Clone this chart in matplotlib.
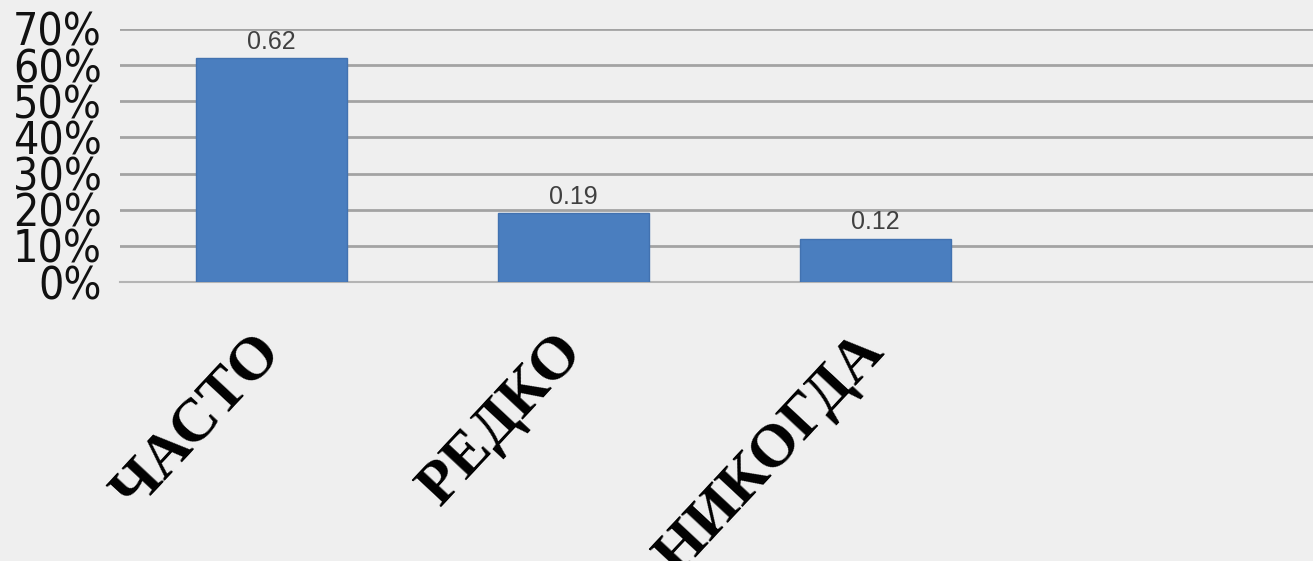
import matplotlib
matplotlib.use('Agg')
import matplotlib.pyplot as plt
import numpy as np

categories = ['ЧАСТО', 'РЕДКО', 'НИКОГДА']
values = [0.62, 0.19, 0.12]
yticks = [0, 0.1, 0.2, 0.3, 0.4, 0.5, 0.6, 0.7]
ytick_labels = ['0%', '10%', '20%', '30%', '40%', '50%', '60%', '70%']

fig = plt.figure(figsize=(13.13, 5.61), dpi=100)
fig.patch.set_facecolor('#efefef')
ax = fig.add_axes([120/1313, 1-282/561, 1-120/1313, (282-29)/561])
ax.set_facecolor('none')

x = np.arange(len(categories))
bars = ax.bar(x, values, width=0.5, color='#4a7ebf', edgecolor='#4272b0', linewidth=1, zorder=3)
for b, v in zip(bars, values):
    ax.text(b.get_x() + b.get_width()/2, v + 0.012, str(v), ha='center', va='bottom',
            fontsize=18, color='#404040', family='Liberation Sans', zorder=4)

ax.set_xlim(-0.5, 3.45)
ax.set_ylim(0, 0.7)
ax.set_yticks(yticks)
ax.set_yticklabels(ytick_labels, family='DejaVu Sans', stretch='condensed',
                   fontsize=32, color='#111111')
ax.tick_params(axis='y', length=0, pad=13)
ax.grid(axis='y', color='#a3a3a3', linewidth=2, zorder=1)
ax.set_axisbelow(True)

ax.set_xticks(x)
ax.set_xticklabels(categories, rotation=47, ha='right', va='center', rotation_mode='anchor',
                   family='Liberation Serif', fontweight='bold', fontsize=44)
ax.tick_params(axis='x', length=0, pad=44)

for s in ['top', 'right', 'left']:
    ax.spines[s].set_visible(False)
ax.spines['bottom'].set_color('#b4b4b4')
ax.spines['bottom'].set_linewidth(1.5)

plt.savefig('out.png', dpi=100, facecolor=fig.get_facecolor())
